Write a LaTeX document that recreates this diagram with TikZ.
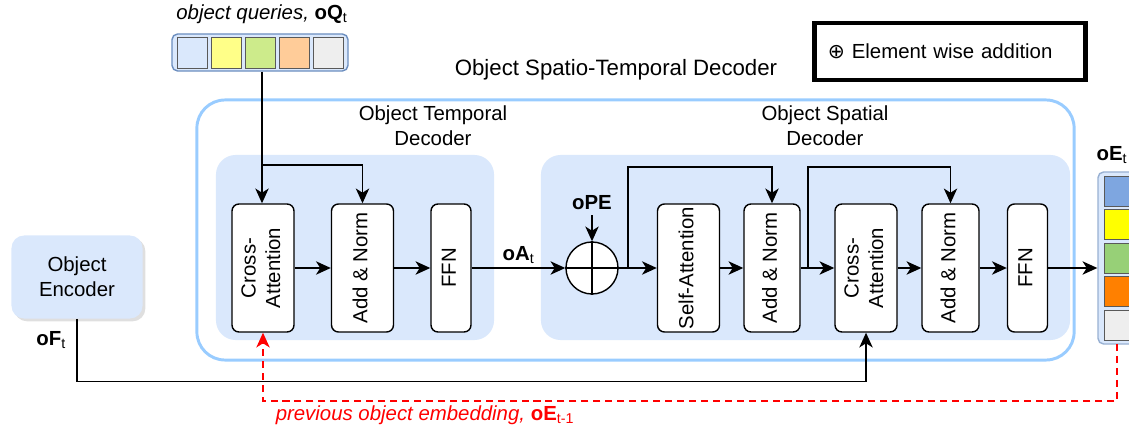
\documentclass[tikz,border=0pt]{standalone}
\usepackage{fontspec}
\setmainfont{Liberation Sans}
\newfontfamily\symfont{DejaVu Sans}
\usetikzlibrary{arrows.meta,shadows}

\definecolor{paleblue}{HTML}{DAE8FC}
\definecolor{edgeblue}{HTML}{6C8EBF}
\definecolor{frameblue}{HTML}{99CCFF}
% slot colours
\definecolor{qa}{HTML}{DAE8FC}
\definecolor{qb}{HTML}{FFFF88}
\definecolor{qc}{HTML}{CDEB8B}
\definecolor{qd}{HTML}{FFCC99}
\definecolor{qe}{HTML}{EEEEEE}
\definecolor{ea}{HTML}{7EA6E0}
\definecolor{eb}{HTML}{FFFF00}
\definecolor{ec}{HTML}{97D077}
\definecolor{ed}{HTML}{FF8000}
\definecolor{ee}{HTML}{EEEEEE}

% rotated, centred text for the upright blocks
\newcommand{\vlabel}[1]{\rotatebox{90}{\begin{tabular}{@{}c@{}}#1\end{tabular}}}

\begin{document}
\begin{tikzpicture}[
    x=0.025cm, y=-0.025cm,
    base/.style={font=\fontsize{14.5}{17.5}\selectfont},
    block/.style={base, rectangle, rounded corners=5pt, draw=black, fill=white, line width=1pt, minimum width=1.55cm, minimum height=3.2cm, inner sep=0pt},
    thin block/.style={block, minimum width=1.0cm},
    stage/.style={rectangle, rounded corners=14pt, fill=paleblue, inner sep=0pt},
    cell/.style={rectangle, draw=black!65, line width=0.6pt, inner sep=0pt},
    arrow/.style={-{Stealth[length=10.5pt,width=9.5pt,inset=3pt]}, line width=1pt},
    lbl/.style={base}
]
    \clip (0,0) rectangle (1129,432);
    \useasboundingbox (0,0) rectangle (1129,432);

    % Frames
    \node[rectangle, rounded corners=20pt, draw=frameblue, line width=2.1pt, fill=white, minimum width=21.925cm, minimum height=6.5cm] (frame) at (635.5,230) {};
    \node[base, font=\fontsize{15.8}{19}\selectfont] (title) at (616,70) {Object Spatio-Temporal Decoder};
    \node[stage, minimum width=6.95cm, minimum height=4.625cm] (tstage) at (355,247.5) {};
    \node[stage, minimum width=13.225cm, minimum height=4.625cm] (sstage) at (805.5,247.5) {};
    \node[lbl, align=center] (tname) at (433,126) {Object Temporal\\Decoder};
    \node[lbl, align=center] (sname) at (825,126) {Object Spatial\\Decoder};

    % Legend
    \node[base, rectangle, draw=black, line width=3.5pt, minimum height=1.425cm, inner xsep=0.33cm, text width=6.1cm, align=left] (legend) at (950,51.5) {{\symfont ⊕} Element wise addition};

    % Queries
    \node[lbl] (qname) at (262,14) {\textit{object queries,} \textbf{oQ}\textsubscript{t}};
    \node[rectangle, rounded corners=4pt, draw=edgeblue, fill=paleblue, line width=1pt, minimum width=4.4cm, minimum height=0.925cm] (queries) at (260,52.5) {};
    \foreach \c [count=\i from 0] in {qa,qb,qc,qd,qe}
        \node[cell, fill=\c, minimum width=0.75cm, minimum height=0.775cm] (q\i) at (192.5+34*\i,52.5) {};

    % Output embeddings
    \node[lbl, anchor=east, inner xsep=1pt] (ename) at (1129,155) {\textbf{oE}\textsubscript{t}};
    \node[rectangle, rounded corners=4pt, draw=edgeblue!70, fill=paleblue, line width=1pt, minimum width=1.2cm, minimum height=4.3cm] (out) at (1122,258) {};
    \foreach \c [count=\i from 0] in {ea,eb,ec,ed,ee}
        \node[cell, fill=\c, minimum width=0.95cm, minimum height=0.75cm] (e\i) at (1123,191+33.6*\i) {};

    % Encoder
    \node[base, rectangle, rounded corners=9pt, fill=paleblue, minimum width=3.275cm, minimum height=2.075cm, align=center, drop shadow={opacity=0.25, shadow xshift=2pt, shadow yshift=-2pt}] (enc) at (77,277) {Object\\Encoder};

    % Temporal blocks
    \node[block] (ca1) at (263,268) {\vlabel{Cross-\\Attention}};
    \node[block] (an1) at (362.5,268) {\vlabel{Add \& Norm}};
    \node[thin block] (ffn1) at (451,268) {\vlabel{FFN}};

    % Spatial blocks
    \node[circle, draw=black, fill=white, line width=1pt, minimum size=1.3cm, inner sep=0pt] (sum) at (592,268) {};
    \draw[line width=1pt] (sum.north) -- (sum.south) (sum.west) -- (sum.east);
    \node[lbl, font=\fontsize{14.5}{17.5}\selectfont\bfseries] (ope) at (592,203) {oPE};
    \node[block] (sa) at (688.5,268) {\vlabel{Self-Attention}};
    \node[block, minimum width=1.4cm] (an2) at (772,268) {\vlabel{Add \& Norm}};
    \node[block] (ca2) at (866,268) {\vlabel{Cross-\\Attention}};
    \node[block, minimum width=1.425cm] (an3) at (950.5,268) {\vlabel{Add \& Norm}};
    \node[thin block] (ffn2) at (1027.5,268) {\vlabel{FFN}};

    \coordinate (qsplit) at (262,165);
    \coordinate (skipA) at (628,268);
    \coordinate (skipB) at (808,268);
    \coordinate (prevtap) at (1117,344);

    % Arrows
    \draw[arrow] (queries.south -| qsplit) -- (ca1.north -| qsplit);
    \draw[arrow] (qsplit) -| (an1.north);
    \draw[arrow] (ca1) -- (an1);
    \draw[arrow] (an1) -- (ffn1);
    \draw[arrow] (ffn1) -- node[above, lbl, yshift=-1pt] {\textbf{oA}\textsubscript{t}} (sum);
    \draw[arrow] (ope) -- (sum);
    \draw[arrow] (sum) -- (sa);
    \draw[arrow] (skipA) -- ++(0,-101) -| (an2.north);
    \draw[arrow] (sa) -- (an2);
    \draw[arrow] (an2) -- (ca2);
    \draw[arrow] (skipB) -- ++(0,-101) -| (an3.north);
    \draw[arrow] (ca2) -- (an3);
    \draw[arrow] (an3) -- (ffn2);
    \draw[arrow] (ffn2) -- (ffn2 -| out.west);
    \draw[arrow] (enc.south) -- node[left, lbl, pos=0.33, xshift=-4pt] {\textbf{oF}\textsubscript{t}} ++(0,63) -| (ca2.south);
    \draw[arrow, draw=red, line width=1.1pt, dash pattern=on 5pt off 3.5pt] (prevtap) -- ++(0,57) -| (ca1.south);
    \node[lbl, text=red] (prev) at (425,415) {\textit{previous object embedding,} \textbf{oE}\textsubscript{t-1}};
\end{tikzpicture}
\end{document}
